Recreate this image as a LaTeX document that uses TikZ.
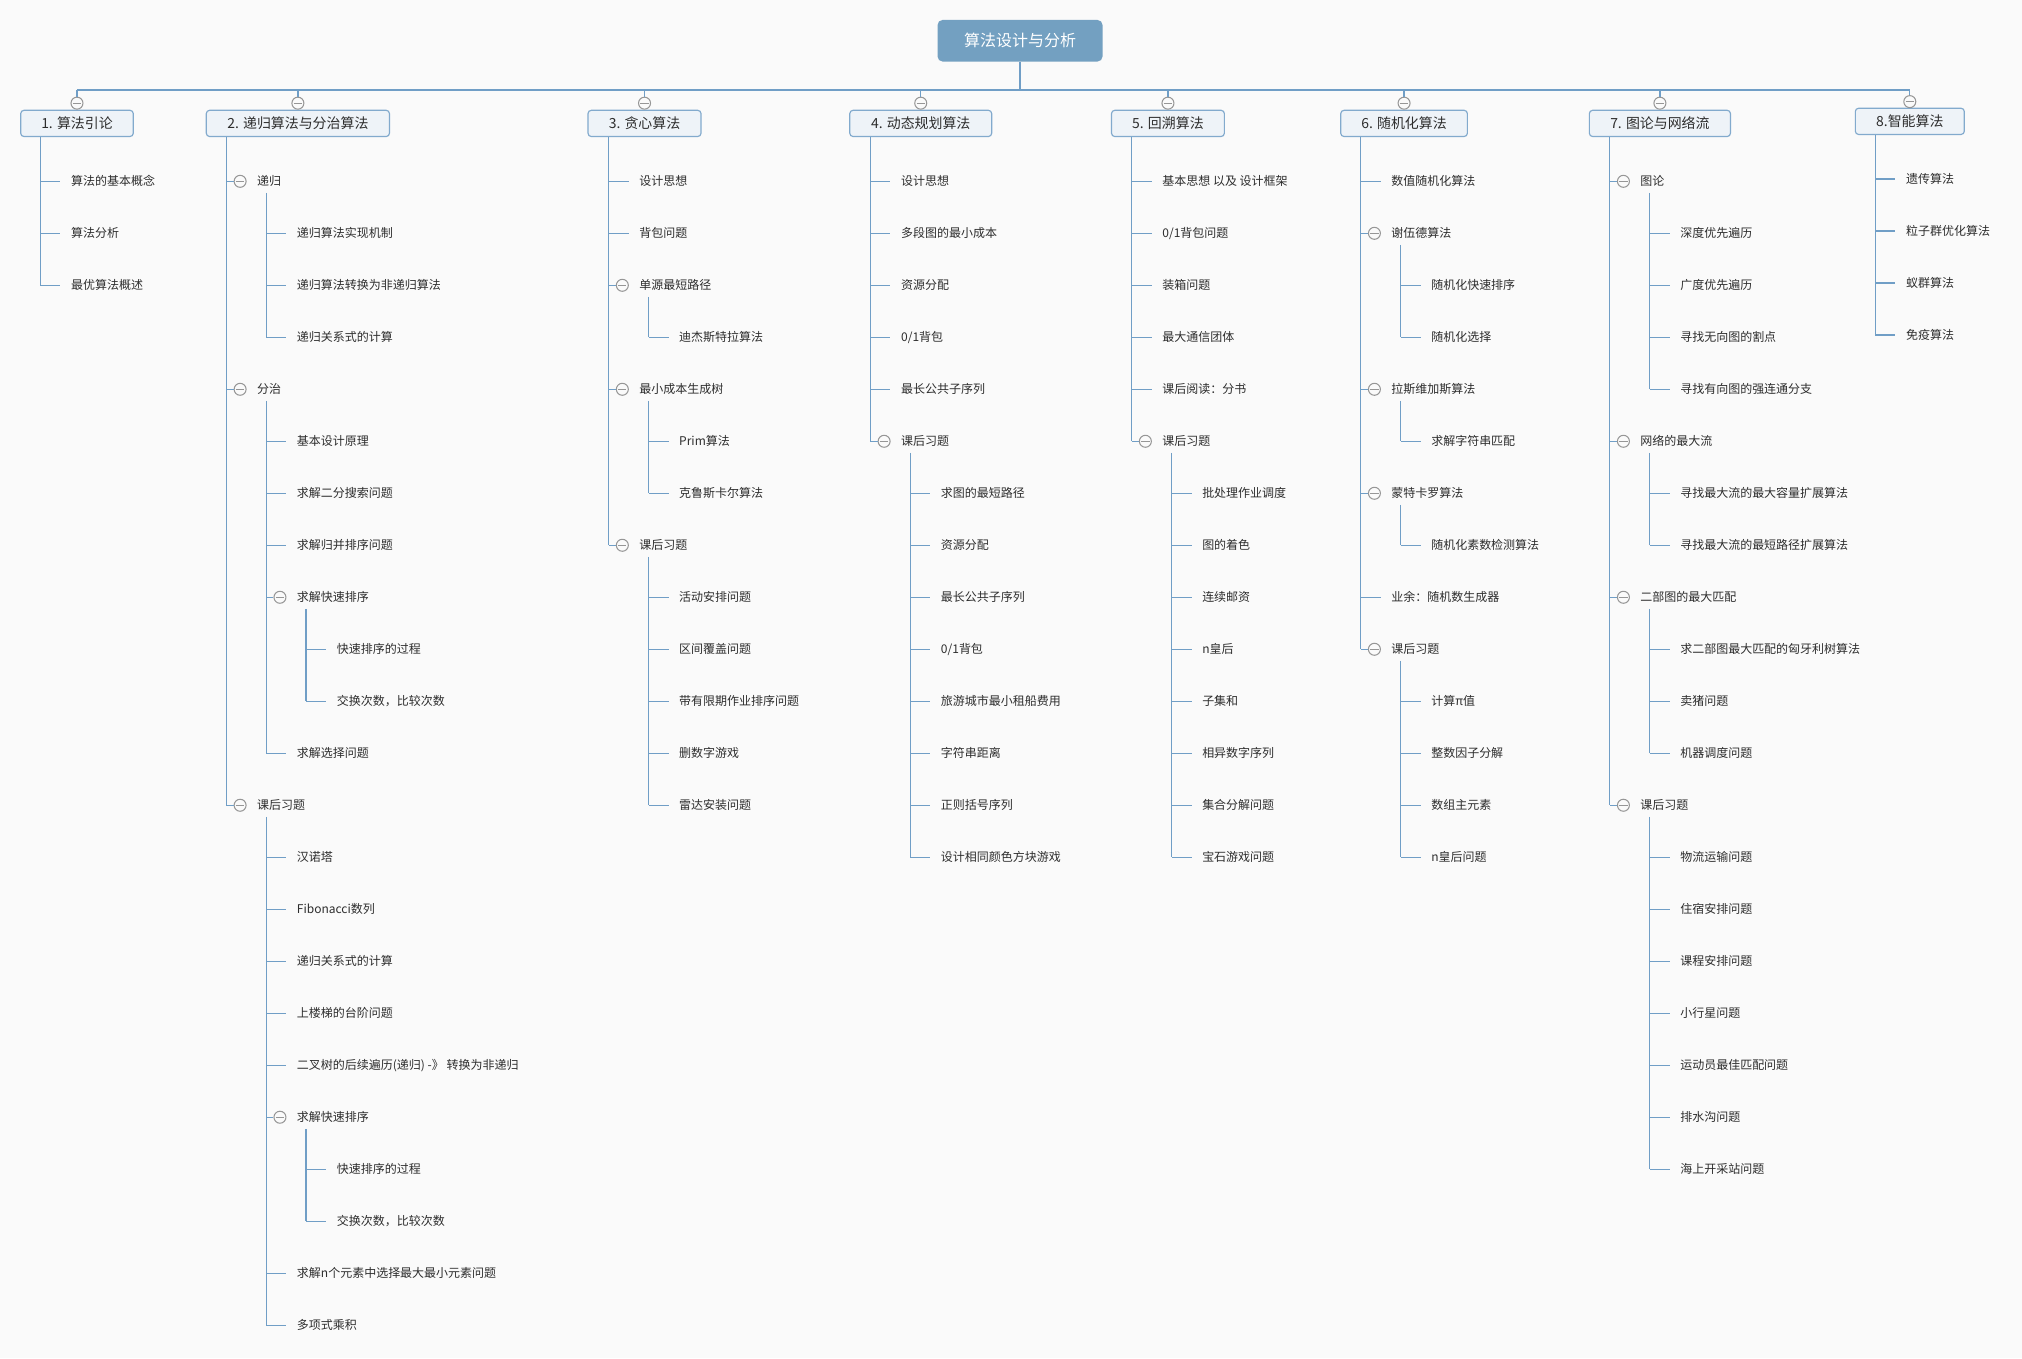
\documentclass[tikz,border=0pt]{standalone}
\usepackage{fontspec}
\setmainfont{Noto Sans CJK SC}
\usetikzlibrary{calc}

\definecolor{bgc}{RGB}{250,250,250}
\definecolor{linec}{RGB}{112,158,198}
\definecolor{rootc}{RGB}{115,160,193}
\definecolor{boxf}{RGB}{238,243,248}
\definecolor{boxd}{RGB}{130,170,205}
\definecolor{togc}{RGB}{150,150,150}
\definecolor{txt}{RGB}{45,45,45}

\tikzset{
  conn/.style={draw=linec, line width=1pt},
  leaf/.style={anchor=west, inner sep=0pt, text=txt, font=\fontsize{9.3}{11}\selectfont, text height=8.2pt, text depth=1.1pt},
  topbox/.style={draw=boxd, fill=boxf, rounded corners=2.5pt, line width=0.9pt, minimum height=20.3pt, inner sep=0pt, text=txt, font=\fontsize{10.8}{12}\selectfont, text height=9.5pt, text depth=1.3pt},
  rootbox/.style={fill=rootc, rounded corners=4pt, minimum width=128pt, minimum height=32.3pt, inner sep=0pt, text=white, font=\fontsize{12.4}{14}\selectfont, text height=10.9pt, text depth=1.5pt},
  tog/.style={circle, draw=togc, fill=bgc, line width=0.8pt, minimum size=9.3pt, inner sep=0pt,
    path picture={\draw[togc, line width=0.8pt] ([xshift=-3.2pt]path picture bounding box.center) -- ([xshift=3.2pt]path picture bounding box.center);}},
}

\def\yo{0}
\newcommand\kid[4]{%
  \coordinate (#1-j) at ({#2}, {140.6+40.32*#3+\yo});
  \node[leaf] (#1) at ({#2+23.6}, {140.6+40.32*#3+\yo}) {#4};
  \draw[conn] (#1-j) -- ([xshift=-8.1pt]#1.west);
}
\newcommand\fold[4]{%
  \coordinate (#1-j) at ({#2}, {140.6+40.32*#3+\yo});
  \node[leaf] (#1) at ({#2+23.6}, {140.6+40.32*#3+\yo}) {#4};
  \node[tog] (#1-c) at ({#2+10.6}, {140.6+40.32*#3+\yo}) {};
  \draw[conn] (#1-j) -- (#1-c.west);
}
\newcommand\subtrunk[2]{\draw[conn] ($(#2-j |- #1-j)+(0,9)$) -- (#2-j);}
\newcommand\toptrunk[2]{\draw[conn] (#1.south -| #2-j) -- (#2-j);}

\begin{document}
\begin{tikzpicture}[x=1pt, y=-1pt]
\fill[bgc] (0,0) rectangle (1568,1053.1);
\useasboundingbox (0,0) rectangle (1568,1053.1);

% root
\node[rootbox] (root) at (791,31.6) {算法设计与分析};
\coordinate (bus1) at (59.7,69.8);
\coordinate (bus2) at (231,69.8);
\coordinate (bus3) at (499.8,69.8);
\coordinate (bus4) at (714,69.8);
\coordinate (bus5) at (905.7,69.8);
\coordinate (bus6) at (1088.8,69.8);
\coordinate (bus7) at (1287.2,69.8);
\coordinate (bus8) at (1481,69.8);
\draw[conn] (root.south) -- (root.south |- bus1);
\draw[conn] (bus1) -- (bus8);

% level 1 boxes
\node[topbox, minimum width=87.3pt] (t1) at (59.7,95.7) {1. 算法引论};
\node[topbox, minimum width=142pt] (t2) at (231,95.7) {2. 递归算法与分治算法};
\node[topbox, minimum width=87.6pt] (t3) at (499.8,95.7) {3. 贪心算法};
\node[topbox, minimum width=110pt] (t4) at (714,95.7) {4. 动态规划算法};
\node[topbox, minimum width=87.5pt] (t5) at (905.7,95.7) {5. 回溯算法};
\node[topbox, minimum width=98.2pt] (t6) at (1088.8,95.7) {6. 随机化算法};
\node[topbox, minimum width=109.4pt] (t7) at (1287.2,95.7) {7. 图论与网络流};
\node[topbox, minimum width=84.5pt] (t8) at (1481,94.1) {8.智能算法};

\node[tog] (g1) at (59.7,80) {};
\node[tog] (g2) at (231,80) {};
\node[tog] (g3) at (499.8,80) {};
\node[tog] (g4) at (714,80) {};
\node[tog] (g5) at (905.7,80) {};
\node[tog] (g6) at (1088.8,80) {};
\node[tog] (g7) at (1287.2,80) {};
\node[tog] (g8) at (1481,78.8) {};
\foreach \i in {1,...,8} {\draw[conn] (bus\i) -- (g\i.north);}

% column 1
\kid{n1a}{31.3}{0}{算法的基本概念}
\kid{n1b}{31.3}{1}{算法分析}
\kid{n1c}{31.3}{2}{最优算法概述}
\toptrunk{t1}{n1c}

% column 2
\fold{n2a}{175.6}{0}{递归}
 \kid{n2a1}{206.5}{1}{递归算法实现机制}
 \kid{n2a2}{206.5}{2}{递归算法转换为非递归算法}
 \kid{n2a3}{206.5}{3}{递归关系式的计算}
 \subtrunk{n2a}{n2a3}
\fold{n2b}{175.6}{4}{分治}
 \kid{n2b1}{206.5}{5}{基本设计原理}
 \kid{n2b2}{206.5}{6}{求解二分搜索问题}
 \kid{n2b3}{206.5}{7}{求解归并排序问题}
 \fold{n2b4}{206.5}{8}{求解快速排序}
  \kid{n2b4a}{237.4}{9}{快速排序的过程}
  \kid{n2b4b}{237.4}{10}{交换次数，比较次数}
  \subtrunk{n2b4}{n2b4b}
 \kid{n2b5}{206.5}{11}{求解选择问题}
 \subtrunk{n2b}{n2b5}
\fold{n2c}{175.6}{12}{课后习题}
 \kid{n2c1}{206.5}{13}{汉诺塔}
 \kid{n2c2}{206.5}{14}{Fibonacci数列}
 \kid{n2c3}{206.5}{15}{递归关系式的计算}
 \kid{n2c4}{206.5}{16}{上楼梯的台阶问题}
 \kid{n2c5}{206.5}{17}{二叉树的后续遍历(递归) -》 转换为非递归}
 \fold{n2c6}{206.5}{18}{求解快速排序}
  \kid{n2c6a}{237.4}{19}{快速排序的过程}
  \kid{n2c6b}{237.4}{20}{交换次数，比较次数}
  \subtrunk{n2c6}{n2c6b}
 \kid{n2c7}{206.5}{21}{求解n个元素中选择最大最小元素问题}
 \kid{n2c8}{206.5}{22}{多项式乘积}
 \subtrunk{n2c}{n2c8}
\toptrunk{t2}{n2c}

% column 3
\kid{n3a}{472}{0}{设计思想}
\kid{n3b}{472}{1}{背包问题}
\fold{n3c}{472}{2}{单源最短路径}
 \kid{n3c1}{502.9}{3}{迪杰斯特拉算法}
 \subtrunk{n3c}{n3c1}
\fold{n3d}{472}{4}{最小成本生成树}
 \kid{n3d1}{502.9}{5}{Prim算法}
 \kid{n3d2}{502.9}{6}{克鲁斯卡尔算法}
 \subtrunk{n3d}{n3d2}
\fold{n3e}{472}{7}{课后习题}
 \kid{n3e1}{502.9}{8}{活动安排问题}
 \kid{n3e2}{502.9}{9}{区间覆盖问题}
 \kid{n3e3}{502.9}{10}{带有限期作业排序问题}
 \kid{n3e4}{502.9}{11}{删数字游戏}
 \kid{n3e5}{502.9}{12}{雷达安装问题}
 \subtrunk{n3e}{n3e5}
\toptrunk{t3}{n3e}

% column 4
\kid{n4a}{675}{0}{设计思想}
\kid{n4b}{675}{1}{多段图的最小成本}
\kid{n4c}{675}{2}{资源分配}
\kid{n4d}{675}{3}{0/1背包}
\kid{n4e}{675}{4}{最长公共子序列}
\fold{n4f}{675}{5}{课后习题}
 \kid{n4f1}{705.9}{6}{求图的最短路径}
 \kid{n4f2}{705.9}{7}{资源分配}
 \kid{n4f3}{705.9}{8}{最长公共子序列}
 \kid{n4f4}{705.9}{9}{0/1背包}
 \kid{n4f5}{705.9}{10}{旅游城市最小租船费用}
 \kid{n4f6}{705.9}{11}{字符串距离}
 \kid{n4f7}{705.9}{12}{正则括号序列}
 \kid{n4f8}{705.9}{13}{设计相同颜色方块游戏}
 \subtrunk{n4f}{n4f8}
\toptrunk{t4}{n4f}

% column 5
\kid{n5a}{877.6}{0}{基本思想 以及 设计框架}
\kid{n5b}{877.6}{1}{0/1背包问题}
\kid{n5c}{877.6}{2}{装箱问题}
\kid{n5d}{877.6}{3}{最大通信团体}
\kid{n5e}{877.6}{4}{课后阅读：分书}
\fold{n5f}{877.6}{5}{课后习题}
 \kid{n5f1}{908.5}{6}{批处理作业调度}
 \kid{n5f2}{908.5}{7}{图的着色}
 \kid{n5f3}{908.5}{8}{连续邮资}
 \kid{n5f4}{908.5}{9}{n皇后}
 \kid{n5f5}{908.5}{10}{子集和}
 \kid{n5f6}{908.5}{11}{相异数字序列}
 \kid{n5f7}{908.5}{12}{集合分解问题}
 \kid{n5f8}{908.5}{13}{宝石游戏问题}
 \subtrunk{n5f}{n5f8}
\toptrunk{t5}{n5f}

% column 6
\kid{n6a}{1055.2}{0}{数值随机化算法}
\fold{n6b}{1055.2}{1}{谢伍德算法}
 \kid{n6b1}{1086.1}{2}{随机化快速排序}
 \kid{n6b2}{1086.1}{3}{随机化选择}
 \subtrunk{n6b}{n6b2}
\fold{n6c}{1055.2}{4}{拉斯维加斯算法}
 \kid{n6c1}{1086.1}{5}{求解字符串匹配}
 \subtrunk{n6c}{n6c1}
\fold{n6d}{1055.2}{6}{蒙特卡罗算法}
 \kid{n6d1}{1086.1}{7}{随机化素数检测算法}
 \subtrunk{n6d}{n6d1}
\kid{n6e}{1055.2}{8}{业余：随机数生成器}
\fold{n6f}{1055.2}{9}{课后习题}
 \kid{n6f1}{1086.1}{10}{计算π值}
 \kid{n6f2}{1086.1}{11}{整数因子分解}
 \kid{n6f3}{1086.1}{12}{数组主元素}
 \kid{n6f4}{1086.1}{13}{n皇后问题}
 \subtrunk{n6f}{n6f4}
\toptrunk{t6}{n6f}

% column 7
\fold{n7a}{1248.3}{0}{图论}
 \kid{n7a1}{1279.2}{1}{深度优先遍历}
 \kid{n7a2}{1279.2}{2}{广度优先遍历}
 \kid{n7a3}{1279.2}{3}{寻找无向图的割点}
 \kid{n7a4}{1279.2}{4}{寻找有向图的强连通分支}
 \subtrunk{n7a}{n7a4}
\fold{n7b}{1248.3}{5}{网络的最大流}
 \kid{n7b1}{1279.2}{6}{寻找最大流的最大容量扩展算法}
 \kid{n7b2}{1279.2}{7}{寻找最大流的最短路径扩展算法}
 \subtrunk{n7b}{n7b2}
\fold{n7c}{1248.3}{8}{二部图的最大匹配}
 \kid{n7c1}{1279.2}{9}{求二部图最大匹配的匈牙利树算法}
 \kid{n7c2}{1279.2}{10}{卖猪问题}
 \kid{n7c3}{1279.2}{11}{机器调度问题}
 \subtrunk{n7c}{n7c3}
\fold{n7d}{1248.3}{12}{课后习题}
 \kid{n7d1}{1279.2}{13}{物流运输问题}
 \kid{n7d2}{1279.2}{14}{住宿安排问题}
 \kid{n7d3}{1279.2}{15}{课程安排问题}
 \kid{n7d4}{1279.2}{16}{小行星问题}
 \kid{n7d5}{1279.2}{17}{运动员最佳匹配问题}
 \kid{n7d6}{1279.2}{18}{排水沟问题}
 \kid{n7d7}{1279.2}{19}{海上开采站问题}
 \subtrunk{n7d}{n7d7}
\toptrunk{t7}{n7d}

% column 8
\def\yo{-1.8}
\kid{n8a}{1454.3}{0}{遗传算法}
\kid{n8b}{1454.3}{1}{粒子群优化算法}
\kid{n8c}{1454.3}{2}{蚁群算法}
\kid{n8d}{1454.3}{3}{免疫算法}
\toptrunk{t8}{n8d}
\end{tikzpicture}
\end{document}
